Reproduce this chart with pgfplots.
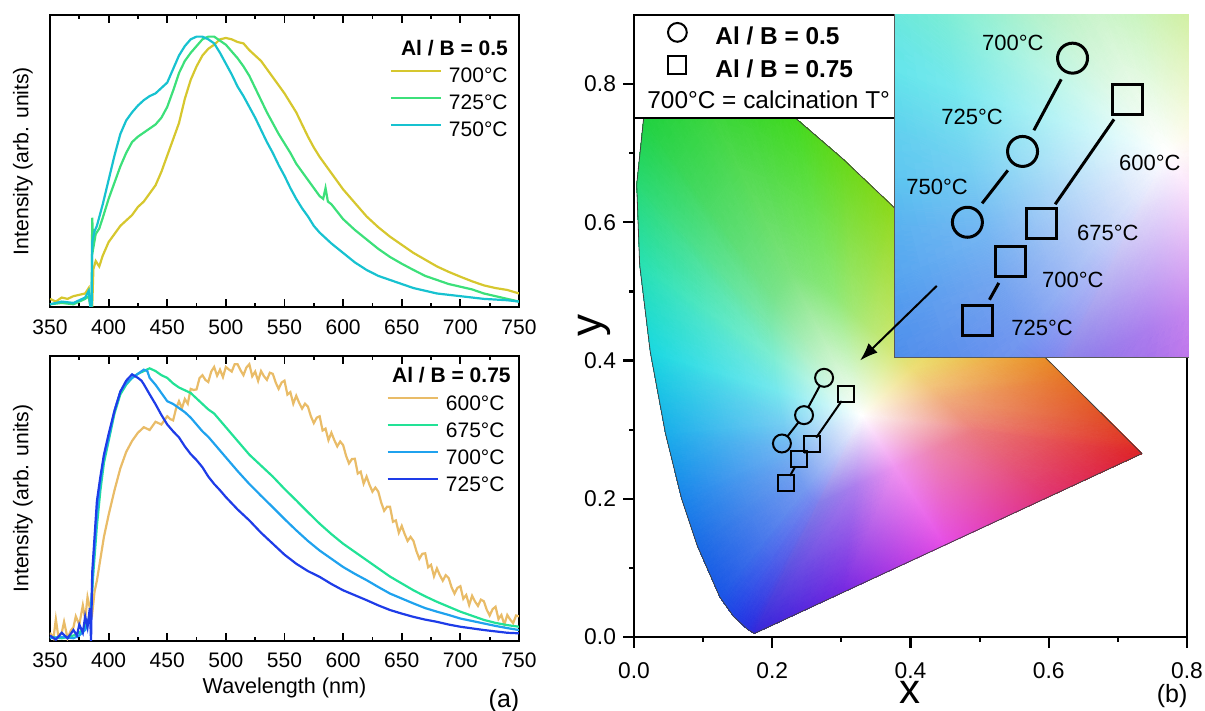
\documentclass[border=0pt]{standalone}
\usepackage{fontspec}
\setmainfont{Liberation Sans}
\usepackage{pgfplots}
\usepackage{pgfplotstable}
\pgfplotsset{compat=1.18}
\usetikzlibrary{arrows.meta}

\definecolor{cYel}{HTML}{D6C72E}
\definecolor{cGrn}{HTML}{3CE07A}
\definecolor{cCya}{HTML}{17C2D0}
\definecolor{cOra}{HTML}{E9BC68}
\definecolor{cGrnB}{HTML}{22E296}
\definecolor{cLbl}{HTML}{1FA2EE}
\definecolor{cDbl}{HTML}{1E3CE8}

% CIE 1931 gamut: white point, an inner ring (40% out) and the locus, as triangles
\pgfplotstableread{
x y c
0.330 0.320 rgb=1,1,1
0.2676 0.1940 rgb=0.52,0.49,0.91
0.2638 0.1964 rgb=0.49,0.51,0.93
0.2676 0.1940 rgb=0.52,0.49,0.91
0.1741 0.0050 rgb=0.20,0.15,0.85
0.1644 0.0109 rgb=0.15,0.18,0.88
0.2676 0.1940 rgb=0.52,0.49,0.91
0.1644 0.0109 rgb=0.15,0.18,0.88
0.2638 0.1964 rgb=0.49,0.51,0.93
0.330 0.320 rgb=1,1,1
0.2638 0.1964 rgb=0.49,0.51,0.93
0.2556 0.2039 rgb=0.47,0.55,0.94
0.2638 0.1964 rgb=0.49,0.51,0.93
0.1644 0.0109 rgb=0.15,0.18,0.88
0.1440 0.0297 rgb=0.12,0.25,0.90
0.2638 0.1964 rgb=0.49,0.51,0.93
0.1440 0.0297 rgb=0.12,0.25,0.90
0.2556 0.2039 rgb=0.47,0.55,0.94
0.330 0.320 rgb=1,1,1
0.2556 0.2039 rgb=0.47,0.55,0.94
0.2476 0.2151 rgb=0.46,0.60,0.94
0.2556 0.2039 rgb=0.47,0.55,0.94
0.1440 0.0297 rgb=0.12,0.25,0.90
0.1241 0.0578 rgb=0.10,0.33,0.90
0.2556 0.2039 rgb=0.47,0.55,0.94
0.1241 0.0578 rgb=0.10,0.33,0.90
0.2476 0.2151 rgb=0.46,0.60,0.94
0.330 0.320 rgb=1,1,1
0.2476 0.2151 rgb=0.46,0.60,0.94
0.2345 0.2451 rgb=0.46,0.65,0.94
0.2476 0.2151 rgb=0.46,0.60,0.94
0.1241 0.0578 rgb=0.10,0.33,0.90
0.0913 0.1327 rgb=0.10,0.42,0.90
0.2476 0.2151 rgb=0.46,0.60,0.94
0.0913 0.1327 rgb=0.10,0.42,0.90
0.2345 0.2451 rgb=0.46,0.65,0.94
0.330 0.320 rgb=1,1,1
0.2345 0.2451 rgb=0.46,0.65,0.94
0.2255 0.2723 rgb=0.46,0.71,0.95
0.2345 0.2451 rgb=0.46,0.65,0.94
0.0913 0.1327 rgb=0.10,0.42,0.90
0.0687 0.2007 rgb=0.10,0.52,0.92
0.2345 0.2451 rgb=0.46,0.65,0.94
0.0687 0.2007 rgb=0.10,0.52,0.92
0.2255 0.2723 rgb=0.46,0.71,0.95
0.330 0.320 rgb=1,1,1
0.2255 0.2723 rgb=0.46,0.71,0.95
0.2162 0.3100 rgb=0.46,0.81,0.95
0.2255 0.2723 rgb=0.46,0.71,0.95
0.0687 0.2007 rgb=0.10,0.52,0.92
0.0454 0.2950 rgb=0.10,0.68,0.92
0.2255 0.2723 rgb=0.46,0.71,0.95
0.0454 0.2950 rgb=0.10,0.68,0.92
0.2162 0.3100 rgb=0.46,0.81,0.95
0.330 0.320 rgb=1,1,1
0.2162 0.3100 rgb=0.46,0.81,0.95
0.2074 0.3571 rgb=0.46,0.91,0.93
0.2162 0.3100 rgb=0.46,0.81,0.95
0.0454 0.2950 rgb=0.10,0.68,0.92
0.0235 0.4127 rgb=0.10,0.85,0.88
0.2162 0.3100 rgb=0.46,0.81,0.95
0.0235 0.4127 rgb=0.10,0.85,0.88
0.2074 0.3571 rgb=0.46,0.91,0.93
0.330 0.320 rgb=1,1,1
0.2074 0.3571 rgb=0.46,0.91,0.93
0.2013 0.4074 rgb=0.49,0.93,0.82
0.2074 0.3571 rgb=0.46,0.91,0.93
0.0235 0.4127 rgb=0.10,0.85,0.88
0.0082 0.5384 rgb=0.15,0.88,0.70
0.2074 0.3571 rgb=0.46,0.91,0.93
0.0082 0.5384 rgb=0.15,0.88,0.70
0.2013 0.4074 rgb=0.49,0.93,0.82
0.330 0.320 rgb=1,1,1
0.2013 0.4074 rgb=0.49,0.93,0.82
0.1996 0.4539 rgb=0.49,0.91,0.67
0.2013 0.4074 rgb=0.49,0.93,0.82
0.0082 0.5384 rgb=0.15,0.88,0.70
0.0039 0.6548 rgb=0.15,0.85,0.45
0.2013 0.4074 rgb=0.49,0.93,0.82
0.0039 0.6548 rgb=0.15,0.85,0.45
0.1996 0.4539 rgb=0.49,0.91,0.67
0.330 0.320 rgb=1,1,1
0.1996 0.4539 rgb=0.49,0.91,0.67
0.2036 0.4921 rgb=0.47,0.89,0.55
0.1996 0.4539 rgb=0.49,0.91,0.67
0.0039 0.6548 rgb=0.15,0.85,0.45
0.0139 0.7502 rgb=0.12,0.82,0.25
0.1996 0.4539 rgb=0.49,0.91,0.67
0.0139 0.7502 rgb=0.12,0.82,0.25
0.2036 0.4921 rgb=0.47,0.89,0.55
0.330 0.320 rgb=1,1,1
0.2036 0.4921 rgb=0.47,0.89,0.55
0.2277 0.5255 rgb=0.49,0.89,0.49
0.2036 0.4921 rgb=0.47,0.89,0.55
0.0139 0.7502 rgb=0.12,0.82,0.25
0.0743 0.8338 rgb=0.15,0.82,0.15
0.2036 0.4921 rgb=0.47,0.89,0.55
0.0743 0.8338 rgb=0.15,0.82,0.15
0.2277 0.5255 rgb=0.49,0.89,0.49
0.330 0.320 rgb=1,1,1
0.2277 0.5255 rgb=0.49,0.89,0.49
0.2599 0.5144 rgb=0.51,0.90,0.47
0.2277 0.5255 rgb=0.49,0.89,0.49
0.0743 0.8338 rgb=0.15,0.82,0.15
0.1547 0.8059 rgb=0.18,0.83,0.12
0.2277 0.5255 rgb=0.49,0.89,0.49
0.1547 0.8059 rgb=0.18,0.83,0.12
0.2599 0.5144 rgb=0.51,0.90,0.47
0.330 0.320 rgb=1,1,1
0.2599 0.5144 rgb=0.51,0.90,0.47
0.2898 0.4937 rgb=0.55,0.91,0.47
0.2599 0.5144 rgb=0.51,0.90,0.47
0.1547 0.8059 rgb=0.18,0.83,0.12
0.2296 0.7543 rgb=0.25,0.85,0.12
0.2599 0.5144 rgb=0.51,0.90,0.47
0.2296 0.7543 rgb=0.25,0.85,0.12
0.2898 0.4937 rgb=0.55,0.91,0.47
0.330 0.320 rgb=1,1,1
0.2898 0.4937 rgb=0.55,0.91,0.47
0.3186 0.4689 rgb=0.64,0.91,0.46
0.2898 0.4937 rgb=0.55,0.91,0.47
0.2296 0.7543 rgb=0.25,0.85,0.12
0.3016 0.6923 rgb=0.40,0.85,0.10
0.2898 0.4937 rgb=0.55,0.91,0.47
0.3016 0.6923 rgb=0.40,0.85,0.10
0.3186 0.4689 rgb=0.64,0.91,0.46
0.330 0.320 rgb=1,1,1
0.3186 0.4689 rgb=0.64,0.91,0.46
0.3472 0.4418 rgb=0.73,0.91,0.46
0.3186 0.4689 rgb=0.64,0.91,0.46
0.3016 0.6923 rgb=0.40,0.85,0.10
0.3731 0.6245 rgb=0.55,0.85,0.10
0.3186 0.4689 rgb=0.64,0.91,0.46
0.3731 0.6245 rgb=0.55,0.85,0.10
0.3472 0.4418 rgb=0.73,0.91,0.46
0.330 0.320 rgb=1,1,1
0.3472 0.4418 rgb=0.73,0.91,0.46
0.3756 0.4139 rgb=0.83,0.91,0.46
0.3472 0.4418 rgb=0.73,0.91,0.46
0.3731 0.6245 rgb=0.55,0.85,0.10
0.4441 0.5547 rgb=0.72,0.85,0.10
0.3472 0.4418 rgb=0.73,0.91,0.46
0.4441 0.5547 rgb=0.72,0.85,0.10
0.3756 0.4139 rgb=0.83,0.91,0.46
0.330 0.320 rgb=1,1,1
0.3756 0.4139 rgb=0.83,0.91,0.46
0.4030 0.3866 rgb=0.93,0.87,0.47
0.3756 0.4139 rgb=0.83,0.91,0.46
0.4441 0.5547 rgb=0.72,0.85,0.10
0.5125 0.4866 rgb=0.88,0.78,0.12
0.3756 0.4139 rgb=0.83,0.91,0.46
0.5125 0.4866 rgb=0.88,0.78,0.12
0.4030 0.3866 rgb=0.93,0.87,0.47
0.330 0.320 rgb=1,1,1
0.4030 0.3866 rgb=0.93,0.87,0.47
0.4281 0.3617 rgb=0.95,0.77,0.49
0.4030 0.3866 rgb=0.93,0.87,0.47
0.5125 0.4866 rgb=0.88,0.78,0.12
0.5752 0.4242 rgb=0.92,0.62,0.15
0.4030 0.3866 rgb=0.93,0.87,0.47
0.5752 0.4242 rgb=0.92,0.62,0.15
0.4281 0.3617 rgb=0.95,0.77,0.49
0.330 0.320 rgb=1,1,1
0.4281 0.3617 rgb=0.95,0.77,0.49
0.4488 0.3410 rgb=0.94,0.67,0.49
0.4281 0.3617 rgb=0.95,0.77,0.49
0.5752 0.4242 rgb=0.92,0.62,0.15
0.6270 0.3725 rgb=0.90,0.45,0.15
0.4281 0.3617 rgb=0.95,0.77,0.49
0.6270 0.3725 rgb=0.90,0.45,0.15
0.4488 0.3410 rgb=0.94,0.67,0.49
0.330 0.320 rgb=1,1,1
0.4488 0.3410 rgb=0.94,0.67,0.49
0.4746 0.3153 rgb=0.93,0.57,0.49
0.4488 0.3410 rgb=0.94,0.67,0.49
0.6270 0.3725 rgb=0.90,0.45,0.15
0.6915 0.3083 rgb=0.88,0.28,0.15
0.4488 0.3410 rgb=0.94,0.67,0.49
0.6915 0.3083 rgb=0.88,0.28,0.15
0.4746 0.3153 rgb=0.93,0.57,0.49
0.330 0.320 rgb=1,1,1
0.4746 0.3153 rgb=0.93,0.57,0.49
0.4856 0.3044 rgb=0.93,0.52,0.49
0.4746 0.3153 rgb=0.93,0.57,0.49
0.6915 0.3083 rgb=0.88,0.28,0.15
0.7190 0.2809 rgb=0.88,0.20,0.15
0.4746 0.3153 rgb=0.93,0.57,0.49
0.7190 0.2809 rgb=0.88,0.20,0.15
0.4856 0.3044 rgb=0.93,0.52,0.49
0.330 0.320 rgb=1,1,1
0.4856 0.3044 rgb=0.93,0.52,0.49
0.4919 0.2981 rgb=0.92,0.48,0.49
0.4856 0.3044 rgb=0.93,0.52,0.49
0.7190 0.2809 rgb=0.88,0.20,0.15
0.7347 0.2653 rgb=0.87,0.13,0.15
0.4856 0.3044 rgb=0.93,0.52,0.49
0.7347 0.2653 rgb=0.87,0.13,0.15
0.4919 0.2981 rgb=0.92,0.48,0.49
0.330 0.320 rgb=1,1,1
0.4919 0.2981 rgb=0.92,0.48,0.49
0.4380 0.2731 rgb=0.93,0.52,0.67
0.4919 0.2981 rgb=0.92,0.48,0.49
0.7347 0.2653 rgb=0.87,0.13,0.15
0.6000 0.2028 rgb=0.88,0.20,0.45
0.4919 0.2981 rgb=0.92,0.48,0.49
0.6000 0.2028 rgb=0.88,0.20,0.45
0.4380 0.2731 rgb=0.93,0.52,0.67
0.330 0.320 rgb=1,1,1
0.4380 0.2731 rgb=0.93,0.52,0.67
0.3780 0.2452 rgb=0.94,0.58,0.94
0.4380 0.2731 rgb=0.93,0.52,0.67
0.6000 0.2028 rgb=0.88,0.20,0.45
0.4500 0.1331 rgb=0.90,0.30,0.90
0.4380 0.2731 rgb=0.93,0.52,0.67
0.4500 0.1331 rgb=0.90,0.30,0.90
0.3780 0.2452 rgb=0.94,0.58,0.94
0.330 0.320 rgb=1,1,1
0.3780 0.2452 rgb=0.94,0.58,0.94
0.3180 0.2174 rgb=0.67,0.49,0.93
0.3780 0.2452 rgb=0.94,0.58,0.94
0.4500 0.1331 rgb=0.90,0.30,0.90
0.3000 0.0635 rgb=0.45,0.15,0.88
0.3780 0.2452 rgb=0.94,0.58,0.94
0.3000 0.0635 rgb=0.45,0.15,0.88
0.3180 0.2174 rgb=0.67,0.49,0.93
0.330 0.320 rgb=1,1,1
0.3180 0.2174 rgb=0.67,0.49,0.93
0.2676 0.1940 rgb=0.52,0.49,0.91
0.3180 0.2174 rgb=0.67,0.49,0.93
0.3000 0.0635 rgb=0.45,0.15,0.88
0.1741 0.0050 rgb=0.20,0.15,0.85
0.3180 0.2174 rgb=0.67,0.49,0.93
0.1741 0.0050 rgb=0.20,0.15,0.85
0.2676 0.1940 rgb=0.52,0.49,0.91
}\cietab

\pgfplotstableread{
x y
0.1741 0.0050
0.1644 0.0109
0.1440 0.0297
0.1241 0.0578
0.0913 0.1327
0.0687 0.2007
0.0454 0.2950
0.0235 0.4127
0.0082 0.5384
0.0039 0.6548
0.0139 0.7502
0.0743 0.8338
0.1547 0.8059
0.2296 0.7543
0.3016 0.6923
0.3731 0.6245
0.4441 0.5547
0.5125 0.4866
0.5752 0.4242
0.6270 0.3725
0.6915 0.3083
0.7190 0.2809
0.7347 0.2653
0.1741 0.0050
}\locus

\pgfplotsset{
  specax/.style={
    scale only axis, width=234.5pt, clip mode=individual,
    xmin=350, xmax=750, ymin=0,
    xtick={350,400,...,750}, minor x tick num=1, ytick=\empty,
    tick align=inside, major tick length=4pt, minor tick length=2pt,
    axis line style={line width=0.9pt},
    every tick/.style={black, line width=0.9pt},
    tick label style={font=\fontsize{10.5}{12}\selectfont},
    /pgf/number format/assume math mode=true,
    ylabel={Intensity (arb. units)},
    every axis y label/.style={at={(axis description cs:-0.0576,0.5)}, rotate=90, anchor=center, font=\fontsize{10.6}{12}\selectfont},
    legend cell align=left,
    legend image code/.code={\draw[##1, line width=1.2pt] (0pt,3pt) -- (25pt,3pt);},
    legend style={draw=none, fill=none, inner sep=0pt, row sep=3.5pt,
      font=\fontsize{10.5}{12}\selectfont,
      nodes={inner sep=0pt, text height=8pt, text depth=2pt},
      /tikz/every odd column/.append style={column sep=3.5pt}},
    every axis plot/.append style={line width=1.1pt},
  }
}

\begin{document}
\begin{tikzpicture}
\path[use as bounding box] (0,0) rectangle (602.5pt,355.5pt);

% ---------------- top spectra, Al/B = 0.5
\begin{axis}[specax, at={(25pt,202pt)}, anchor=south west, height=146pt, ymax=1.08,
  xticklabel style={yshift=-3pt},
  legend style={at={(axis description cs:0.9765,0.824)}, anchor=north east}]
\addplot[cYel] coordinates {
(350,0.03)(355,0.02)(360,0.035)(365,0.03)(370,0.04)(375,0.045)(380,0.05)(383,0.07)(384.5,0.0)(386,0.0)(387,0.14)(389,0.17)(392,0.15)(395,0.19)(400,0.24)(405,0.27)(410,0.30)(415,0.32)(420,0.34)(425,0.37)(430,0.39)(435,0.42)(440,0.45)(445,0.50)(450,0.56)(455,0.62)(460,0.68)(465,0.77)(470,0.84)(475,0.89)(480,0.93)(485,0.955)(490,0.97)(495,0.99)(500,0.995)(505,0.99)(510,0.98)(515,0.975)(520,0.95)(525,0.93)(530,0.91)(535,0.88)(540,0.85)(545,0.82)(550,0.79)(555,0.755)(560,0.72)(565,0.675)(570,0.63)(575,0.59)(580,0.555)(585,0.525)(590,0.495)(595,0.465)(600,0.435)(610,0.385)(620,0.335)(630,0.295)(640,0.26)(650,0.23)(660,0.20)(670,0.175)(680,0.15)(690,0.13)(700,0.112)(710,0.095)(720,0.08)(730,0.07)(740,0.063)(750,0.05)};
\addlegendentry{700°C}
\addplot[cGrn] coordinates {
(350,0.01)(360,0.015)(370,0.01)(375,0.02)(380,0.03)(383,0.04)(384.5,0.0)(385.5,0.0)(386,0.33)(387,0.22)(389,0.27)(392,0.29)(395,0.33)(400,0.40)(405,0.46)(410,0.52)(415,0.57)(420,0.61)(425,0.63)(430,0.645)(435,0.66)(440,0.675)(445,0.70)(450,0.74)(455,0.80)(460,0.865)(465,0.91)(470,0.94)(475,0.965)(480,0.99)(485,1.0)(490,1.0)(495,0.985)(500,0.97)(505,0.945)(510,0.92)(515,0.89)(520,0.855)(525,0.81)(530,0.765)(535,0.72)(540,0.68)(545,0.64)(550,0.605)(555,0.57)(560,0.53)(565,0.50)(570,0.47)(575,0.44)(580,0.41)(583,0.40)(585,0.44)(587,0.39)(590,0.38)(600,0.325)(610,0.285)(620,0.25)(630,0.215)(640,0.185)(650,0.16)(660,0.137)(670,0.115)(680,0.10)(690,0.085)(700,0.075)(710,0.065)(720,0.05)(730,0.04)(740,0.03)(750,0.02)};
\addlegendentry{725°C}
\addplot[cCya] coordinates {
(350,0.01)(360,0.02)(370,0.015)(375,0.025)(380,0.035)(383,0.06)(384.5,0.0)(385.5,0.0)(386,0.24)(388,0.28)(390,0.30)(395,0.38)(400,0.47)(405,0.56)(410,0.64)(415,0.69)(420,0.72)(425,0.745)(430,0.765)(435,0.78)(440,0.79)(445,0.81)(450,0.83)(455,0.88)(460,0.93)(465,0.965)(470,0.99)(475,1.0)(480,1.0)(485,0.99)(490,0.975)(495,0.94)(500,0.90)(505,0.86)(510,0.815)(515,0.78)(520,0.74)(525,0.70)(530,0.655)(535,0.61)(540,0.57)(545,0.525)(550,0.485)(555,0.44)(560,0.40)(565,0.365)(570,0.335)(575,0.30)(580,0.275)(590,0.235)(600,0.20)(610,0.165)(620,0.137)(630,0.115)(640,0.10)(650,0.085)(660,0.07)(670,0.06)(680,0.05)(690,0.045)(700,0.04)(720,0.03)(740,0.025)(750,0.02)};
\addlegendentry{750°C}
\node[anchor=east, inner sep=0pt, font=\bfseries\fontsize{10.5}{12}\selectfont] at (axis description cs:0.977,0.887) {Al / B = 0.5};
\end{axis}

% ---------------- bottom spectra, Al/B = 0.75
\begin{axis}[specax, at={(25pt,35pt)}, anchor=south west, height=142.5pt, ymax=1.04,
  xticklabel style={yshift=-2.5pt},
  xlabel={Wavelength (nm)},
  every axis x label/.style={at={(axis description cs:0.5,-0.165)}, anchor=center, font=\fontsize{10.8}{12}\selectfont},
  legend style={at={(axis description cs:0.970,0.868)}, anchor=north east}]
\addplot[cOra] coordinates {
(350,0.03)(353,0.01)(355,0.08)(357,0.02)(360,0.03)(362,0.07)(365,0.01)(368,0.04)(370,0.05)(372,0.09)(375,0.06)(378,0.13)(380,0.08)(382,0.16)(384,0.12)(386,0.10)(388,0.18)(390,0.22)(393,0.30)(396,0.38)(400,0.46)(405,0.55)(410,0.63)(415,0.69)(420,0.73)(425,0.76)(430,0.78)(435,0.77)(440,0.80)(445,0.79)
(450,0.82)(452.5,0.81)(455,0.805)(457.5,0.848)(460,0.875)(462.5,0.849)(465,0.883)(467.5,0.866)(470,0.92)(472.5,0.916)(475,0.918)(477.5,0.959)(480,0.97)(482.5,0.953)(485,0.945)(487.5,0.983)(490,1.0)(492.5,0.968)(495,0.99)(497.5,0.963)(500,1.0)(502.5,0.991)(505,0.983)(507.5,1.01)(510,1.01)(512.5,0.988)(515,0.97)(517.5,0.998)(520,1.01)(522.5,0.966)(525,0.983)(527.5,0.949)(530,0.985)(532.5,0.966)(535,0.953)(537.5,0.979)(540,0.975)(542.5,0.943)(545,0.92)(547.5,0.943)(550,0.95)(552.5,0.899)(555,0.908)(557.5,0.866)(560,0.895)(562.5,0.869)(565,0.848)(567.5,0.866)(570,0.855)(572.5,0.82)(575,0.795)(577.5,0.815)(580,0.82)(582.5,0.768)(585,0.775)(587.5,0.733)(590,0.76)(592.5,0.733)(595,0.71)(597.5,0.728)
(600,0.715)(602.5,0.676)(605,0.648)(607.5,0.664)(610,0.665)(612.5,0.611)(615,0.618)(617.5,0.574)(620,0.60)(622.5,0.57)(625,0.545)(627.5,0.56)(630,0.545)(632.5,0.505)(635,0.475)(637.5,0.49)(640,0.49)(642.5,0.435)(645,0.44)(647.5,0.395)(650,0.42)(652.5,0.39)(655,0.365)(657.5,0.38)(660,0.365)(662.5,0.328)(665,0.30)(667.5,0.318)(670,0.32)(672.5,0.269)(675,0.278)(677.5,0.236)(680,0.265)(682.5,0.24)(685,0.22)(687.5,0.24)(690,0.23)(692.5,0.196)(695,0.173)(697.5,0.194)(700,0.20)(702.5,0.154)(705,0.168)(707.5,0.131)(710,0.165)(712.5,0.144)(715,0.128)(717.5,0.151)(720,0.145)(722.5,0.114)(725,0.093)(727.5,0.116)(730,0.125)(732.5,0.08)(735,0.095)(737.5,0.06)(740,0.095)(742.5,0.078)(745,0.065)(747.5,0.093)(750,0.09)};
\addlegendentry{600°C}
\addplot[cGrnB] coordinates {
(350,0.015)(360,0.01)(370,0.02)(375,0.03)(380,0.05)(383,0.08)(385,0.12)(387,0.25)(390,0.42)(393,0.55)(396,0.65)(400,0.73)(405,0.83)(410,0.90)(415,0.935)(420,0.96)(425,0.975)(430,0.985)(435,0.995)(440,0.985)(445,0.97)(450,0.96)(455,0.94)(460,0.925)(465,0.915)(470,0.905)(475,0.885)(480,0.865)(485,0.845)(490,0.83)(495,0.805)(500,0.78)(510,0.73)(520,0.68)(530,0.64)(540,0.60)(550,0.555)(560,0.513)(570,0.47)(580,0.428)(590,0.39)(600,0.355)(610,0.325)(620,0.295)(630,0.265)(640,0.235)(650,0.21)(660,0.185)(670,0.163)(680,0.143)(690,0.125)(700,0.107)(710,0.092)(720,0.077)(730,0.066)(740,0.058)(750,0.052)};
\addlegendentry{675°C}
\addplot[cLbl] coordinates {
(350,0.01)(360,0.015)(370,0.01)(375,0.02)(380,0.04)(383,0.07)(385,0.12)(387,0.28)(390,0.46)(393,0.58)(396,0.67)(400,0.74)(405,0.84)(410,0.91)(415,0.94)(420,0.96)(425,0.975)(430,0.99)(433,0.985)(435,0.96)(440,0.935)(445,0.905)(450,0.875)(455,0.865)(460,0.85)(465,0.835)(470,0.815)(475,0.79)(480,0.765)(485,0.745)(490,0.72)(495,0.695)(500,0.67)(510,0.62)(520,0.573)(530,0.53)(540,0.488)(550,0.445)(560,0.404)(570,0.365)(580,0.33)(590,0.30)(600,0.27)(610,0.245)(620,0.222)(630,0.197)(640,0.173)(650,0.155)(660,0.137)(670,0.12)(680,0.107)(690,0.095)(700,0.082)(710,0.073)(720,0.064)(730,0.055)(740,0.047)(750,0.04)};
\addlegendentry{700°C}
\addplot[cDbl] coordinates {
(350,0.02)(355,0.005)(360,0.03)(365,0.01)(370,0.04)(373,0.02)(375,0.06)(378,0.03)(380,0.09)(382,0.05)(384,0.12)(385,0.0)(386,0.25)(388,0.38)(390,0.51)(393,0.60)(396,0.68)(400,0.755)(405,0.84)(410,0.91)(415,0.95)(420,0.973)(425,0.96)(428,0.95)(430,0.937)(435,0.90)(440,0.864)(445,0.825)(450,0.79)(455,0.765)(460,0.743)(465,0.71)(470,0.682)(475,0.66)(480,0.634)(485,0.60)(490,0.573)(495,0.55)(500,0.525)(510,0.48)(520,0.44)(530,0.395)(540,0.355)(550,0.315)(560,0.282)(570,0.255)(580,0.234)(590,0.208)(600,0.185)(610,0.167)(620,0.149)(630,0.13)(640,0.113)(650,0.10)(660,0.088)(670,0.078)(680,0.07)(690,0.06)(700,0.052)(710,0.046)(720,0.04)(730,0.035)(740,0.03)(750,0.028)};
\addlegendentry{725°C}
\node[anchor=east, inner sep=0pt, font=\bfseries\fontsize{10.5}{12}\selectfont] at (axis description cs:0.983,0.933) {Al / B = 0.75};
\node[font=\fontsize{12.5}{14}\selectfont] at (axis description cs:0.968,-0.21) {(a)};
\end{axis}

% ---------------- CIE diagram
\begin{axis}[at={(317pt,37pt)}, anchor=south west, scale only axis,
  width=276.5pt, height=311pt, clip mode=individual,
  xmin=0, xmax=0.8, ymin=0, ymax=0.9,
  xtick={0,0.2,...,0.8}, ytick={0,0.2,...,0.8}, minor tick num=1,
  tick pos=left, tick align=outside,
  major tick length=5.5pt, minor tick length=2.5pt,
  axis line style={line width=1.1pt},
  every tick/.style={black, line width=1.1pt},
  tick label style={font=\fontsize{11.4}{13}\selectfont},
  xticklabel style={yshift=-4pt},
  /pgf/number format/fixed, /pgf/number format/fixed zerofill,
  /pgf/number format/precision=1, /pgf/number format/assume math mode=true,
  xlabel={x}, ylabel={y},
  every axis x label/.style={at={(axis description cs:0.5,-0.107)}, anchor=base, inner sep=0pt, font=\fontsize{21}{21}\selectfont},
  every axis y label/.style={at={(axis description cs:-0.072,0.5)}, rotate=90, anchor=center, inner sep=0pt, font=\fontsize{22}{22}\selectfont},
  legend cell align=left,
  legend image code/.code={\path[draw=none, fill=none] (0pt,-3pt) rectangle (19pt,9pt); \draw[#1] plot coordinates {(9.5pt,3pt)};},
  legend style={at={(axis description cs:0.0434,0.992)}, anchor=north west,
    draw=none, fill=none, inner sep=0pt, row sep=1.5pt,
    font=\fontsize{12.2}{14}\selectfont,
    nodes={inner sep=0pt, text height=9pt, text depth=3pt},
    /tikz/every odd column/.append style={column sep=9.5pt}},
]
\addplot[patch, shader=interp, mesh/color input=explicit, point meta=explicit symbolic, forget plot] table[meta=c] {\cietab};
\addplot[black!75, line width=0.4pt, forget plot] table {\locus};
% Al/B = 0.5 (circles) and Al/B = 0.75 (squares)
\addplot[black, line width=1pt, shorten <=4.5pt, shorten >=4.5pt, forget plot] coordinates {(0.275,0.375)(0.246,0.321)};
\addplot[black, line width=1pt, shorten <=4.5pt, shorten >=4.5pt, forget plot] coordinates {(0.246,0.321)(0.214,0.280)};
\addplot[black, line width=1pt, shorten <=4pt, shorten >=4pt, forget plot] coordinates {(0.307,0.351)(0.257,0.279)};
\addplot[black, line width=1pt, shorten <=4pt, shorten >=4pt, forget plot] coordinates {(0.257,0.279)(0.239,0.257)};
\addplot[black, line width=1pt, shorten <=4pt, shorten >=4pt, forget plot] coordinates {(0.239,0.257)(0.220,0.223)};
\addplot[only marks, mark=o, mark size=4.5pt, line width=1pt, black, forget plot] coordinates {(0.275,0.375)(0.246,0.321)(0.214,0.280)};
\addplot[only marks, mark=square, mark size=4pt, line width=1pt, black, forget plot] coordinates {(0.307,0.351)(0.257,0.279)(0.239,0.257)(0.220,0.223)};
\node[draw=black, line width=0.6pt, fill=white, anchor=north west, inner sep=0pt, outer sep=0pt,
  minimum width=131pt, minimum height=51.5pt] at (rel axis cs:0,1) {};
\node[anchor=base west, inner sep=0pt, font=\fontsize{12.2}{14}\selectfont] at (axis description cs:0.0235,0.849) {700°C = calcination T°};
\coordinate (arrS) at (axis cs:0.438,0.508);
\coordinate (arrE) at (axis cs:0.327,0.400);
\addlegendimage{only marks, mark=o, mark size=4.7pt, line width=1pt, black}
\addlegendentry{\textbf{Al / B = 0.5}}
\addlegendimage{only marks, mark=square, mark size=4.5pt, line width=1pt, black}
\addlegendentry{\textbf{Al / B = 0.75}}
\node[font=\fontsize{12.5}{14}\selectfont] at (axis description cs:0.973,-0.095) {(b)};
\end{axis}

% ---------------- zoomed inset
\begin{axis}[at={(447.5pt,177pt)}, anchor=south west, scale only axis,
  width=146.5pt, height=171pt,
  xmin=0.172, xmax=0.342, ymin=0.202, ymax=0.400,
  xtick=\empty, ytick=\empty,
  axis line style={draw=black!65, line width=0.6pt}]
\addplot[patch, shader=interp, mesh/color input=explicit, point meta=explicit symbolic] table[meta=c] {\cietab};
\addplot[black, line width=1.5pt, shorten <=12pt, shorten >=12pt] coordinates {(0.275,0.375)(0.246,0.321)};
\addplot[black, line width=1.5pt, shorten <=12pt, shorten >=12pt] coordinates {(0.246,0.321)(0.214,0.280)};
\addplot[black, line width=1.5pt, shorten <=12pt, shorten >=12pt] coordinates {(0.307,0.351)(0.257,0.279)};
\addplot[black, line width=1.5pt, shorten <=12pt, shorten >=12pt] coordinates {(0.239,0.257)(0.220,0.223)};
\addplot[only marks, mark=o, mark size=7.5pt, line width=1.5pt, black] coordinates {(0.275,0.375)(0.246,0.321)(0.214,0.280)};
\addplot[only marks, mark=square, mark size=7.5pt, line width=1.5pt, black] coordinates {(0.307,0.351)(0.257,0.279)(0.239,0.257)(0.220,0.223)};
\begin{scope}[every node/.style={font=\fontsize{11}{13}\selectfont, inner sep=0pt}]
\node at (axis cs:0.2404,0.3838) {700°C};
\node at (axis cs:0.2167,0.3409) {725°C};
\node at (axis cs:0.1964,0.3004) {750°C};
\node at (axis cs:0.3199,0.3143) {600°C};
\node at (axis cs:0.2955,0.2738) {675°C};
\node at (axis cs:0.2752,0.2466) {700°C};
\node at (axis cs:0.2573,0.2188) {725°C};
\end{scope}
\end{axis}

\draw[black, line width=1pt, -{Latex[length=9pt,width=6.5pt]}] (arrS) -- (arrE);
\end{tikzpicture}
\end{document}
